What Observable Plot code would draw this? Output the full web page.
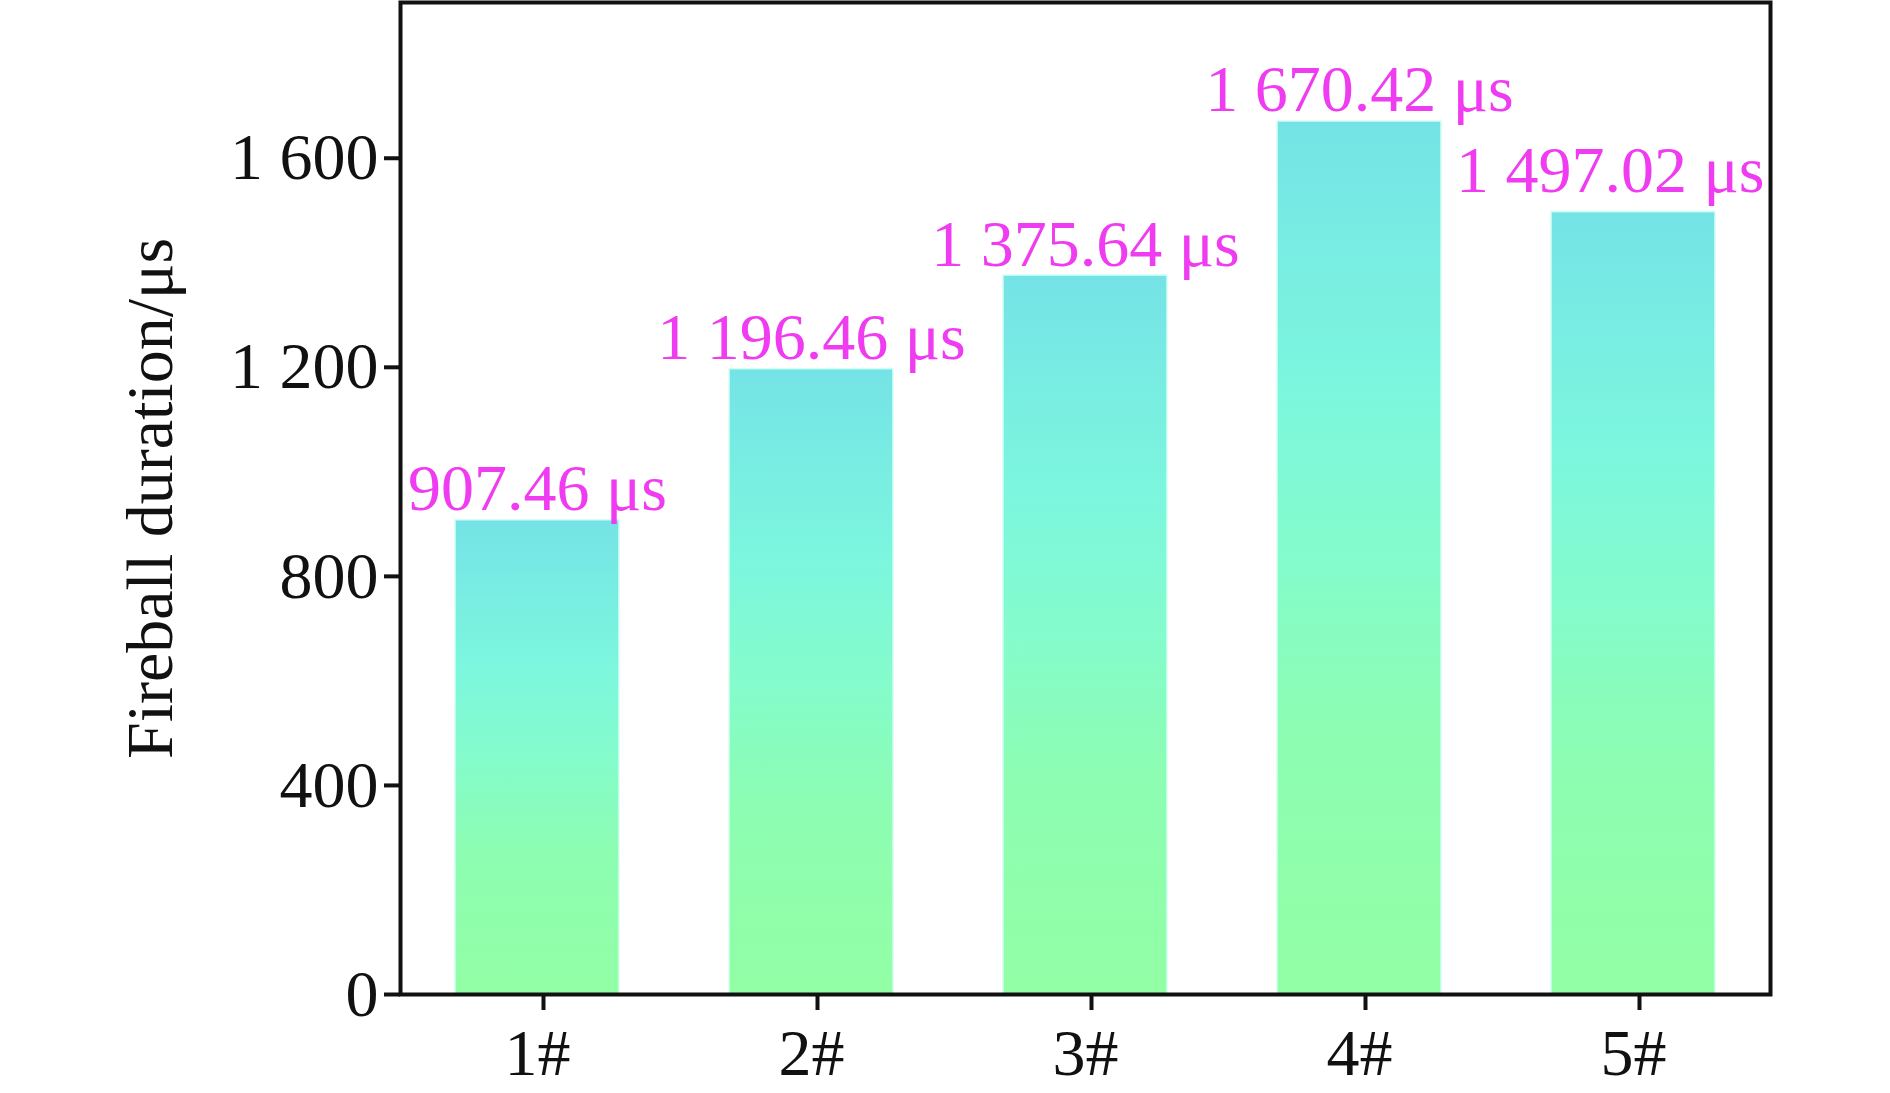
<!DOCTYPE html>
<html>
<head>
<meta charset="utf-8">
<script src="https://cdn.jsdelivr.net/npm/d3@7"></script>
<script src="https://cdn.jsdelivr.net/npm/@observablehq/plot@0.6"></script>
<style>
  body { margin: 0; background: #fff; }
  svg { display: block; }
</style>
</head>
<body>
<div id="chart"></div>
<script>
const categories = ["1#", "2#", "3#", "4#", "5#"];
const durations = [907.46, 1196.46, 1375.64, 1670.42, 1497.02];
const valueLabels = ["907.46 μs", "1 196.46 μs", "1 375.64 μs", "1 670.42 μs", "1 497.02 μs"];
const yTicks = [0, 400, 800, 1200, 1600];
const yTickLabels = ["0", "400", "800", "1 200", "1 600"];
const yTitle = "Fireball duration/μs";

const data = categories.map((c, i) => ({cat: c, value: durations[i], label: valueLabels[i]}));

const font = "'Liberation Serif', 'Times New Roman', serif";
const labelColor = "#f03cf0";

const gradientDefs = () => {
  const defs = d3.create("svg:defs");
  const g = defs.append("linearGradient")
    .attr("id", "barGrad").attr("x1", 0).attr("y1", 0).attr("x2", 0).attr("y2", 1);
  [[0, "#75e3e6"], [0.3, "#7cf6de"], [0.5, "#84fccc"], [0.7, "#8dfdb2"], [1, "#92ffa5"]]
    .forEach(([o, c]) => g.append("stop").attr("offset", o).attr("stop-color", c));
  return defs.node();
};

const chart = Plot.plot({
  width: 1890,
  height: 1093,
  marginLeft: 400,
  marginRight: 120,
  marginTop: 2,
  marginBottom: 99,
  style: {fontFamily: font, background: "white", color: "#111"},
  x: {domain: categories, paddingInner: 0.4, paddingOuter: 0.2},
  y: {domain: [0, 1898]},
  marks: [
    gradientDefs,
    Plot.barY(data, {x: "cat", y: "value", fill: "url(#barGrad)", stroke: "#d2fff4", strokeWidth: 1.5}),
    Plot.axisX({tickSize: 0, tickPadding: 34, fontSize: 66, label: null, fill: "#111"}),
    Plot.axisX({tickSize: 16, text: null, label: null, strokeWidth: 4, dx: 6, ariaLabel: "x-inward-tick"}),
    Plot.axisY({ticks: yTicks, tickFormat: d => yTickLabels[yTicks.indexOf(d)], tickSize: 0, tickPadding: 22, fontSize: 66, label: null, fill: "#111"}),
    Plot.axisY({ticks: yTicks, tickSize: 16, text: null, label: null, strokeWidth: 4, ariaLabel: "y-inward-tick"}),
    Plot.text([yTitle], {frameAnchor: "left", textAnchor: "middle", rotate: -90, dx: -275, lineAnchor: "top", fontSize: 66, fill: "#111"}),
    Plot.text(data.slice(0, 4), {x: "cat", y: "value", text: "label", dy: -10, lineAnchor: "bottom", fill: labelColor, fontSize: 66}),
    Plot.text(data.slice(4), {y: "value", text: "label", frameAnchor: "right", textAnchor: "end", dx: -6, dy: -20, lineAnchor: "bottom", fill: labelColor, fontSize: 66}),
    Plot.frame({stroke: "#111", strokeWidth: 4})
  ]
});

// make the axis ticks point inward
d3.select(chart).selectAll('g[aria-label="x-inward-tick"] path').attr("d", "M0,0L0,-16");
d3.select(chart).selectAll('g[aria-label="y-inward-tick"] path').attr("d", "M0,0L17,0");

document.getElementById("chart").appendChild(chart);
</script>
</body>
</html>
